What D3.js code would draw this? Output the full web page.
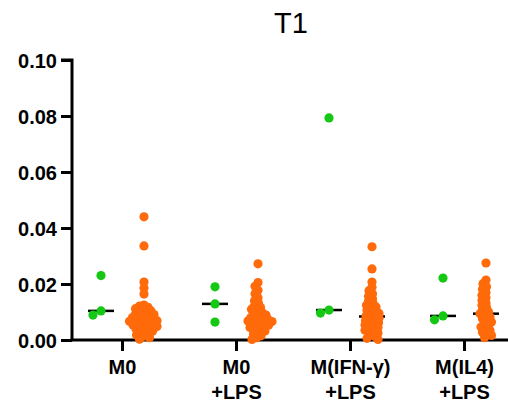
<!DOCTYPE html>
<html>
<head>
<meta charset="utf-8">
<script src="https://cdn.jsdelivr.net/npm/d3@7"></script>
<style>
  body { margin: 0; background: #fff; }
  text { font-family: Arial, "Liberation Sans", sans-serif; }
</style>
</head>
<body>
<div id="chart"></div>
<script>
// categories (two-line labels)
var categories = ["M0", "M0\n+LPS", "M(IFN-γ)\n+LPS", "M(IL4)\n+LPS"];
var yTicks = [0, 0.02, 0.04, 0.06, 0.08, 0.10];

// green series, one array per category
var greenM0 = [0.0089, 0.0104, 0.0230];
var greenM0LPS = [0.0064, 0.0129, 0.0190];
var greenIFN = [0.0096, 0.0107, 0.0793];
var greenIL4 = [0.0072, 0.0086, 0.0221];

// orange series
var orangeM0 = [0.0440, 0.0336, 0.0207, 0.0186, 0.0164, 0.0125, 0.0121, 0.0117, 0.0112, 0.0109,
  0.0104, 0.0101, 0.0097, 0.0093, 0.0091, 0.0087, 0.0084, 0.0080, 0.0078, 0.0075, 0.0072,
  0.0069, 0.0067, 0.0064, 0.0062, 0.0059, 0.0056, 0.0054, 0.0051, 0.0048, 0.0045, 0.0042,
  0.0039, 0.0035, 0.0031, 0.0027, 0.0023, 0.0018, 0.0013, 0.0008, 0.0003];
var orangeM0LPS = [0.0272, 0.0205, 0.0192, 0.0178, 0.0165, 0.0151, 0.0140, 0.0131, 0.0122, 0.0116,
  0.0110, 0.0104, 0.0098, 0.0093, 0.0089, 0.0085, 0.0081, 0.0077, 0.0074, 0.0071, 0.0068,
  0.0066, 0.0063, 0.0060, 0.0056, 0.0053, 0.0049, 0.0045, 0.0041, 0.0037, 0.0032, 0.0027,
  0.0021, 0.0015, 0.0008, 0.0002];
var orangeIFN = [0.0333, 0.0254, 0.0207, 0.0188, 0.0176, 0.0165, 0.0156, 0.0147, 0.0139, 0.0131,
  0.0124, 0.0118, 0.0112, 0.0106, 0.0100, 0.0095, 0.0090, 0.0086, 0.0082, 0.0078, 0.0074,
  0.0070, 0.0066, 0.0062, 0.0058, 0.0054, 0.0050, 0.0045, 0.0040, 0.0035, 0.0030, 0.0025,
  0.0019, 0.0013, 0.0006, 0.0002];
var orangeIL4 = [0.0275, 0.0214, 0.0201, 0.0190, 0.0181, 0.0170, 0.0160, 0.0151, 0.0141, 0.0132,
  0.0124, 0.0116, 0.0108, 0.0101, 0.0094, 0.0088, 0.0082, 0.0076, 0.0070, 0.0064, 0.0058,
  0.0052, 0.0046, 0.0040, 0.0034, 0.0028, 0.0022, 0.0016, 0.0008];

var greenData = [greenM0, greenM0LPS, greenIFN, greenIL4];
var orangeData = [orangeM0, orangeM0LPS, orangeIFN, orangeIL4];

var width = 508, height = 403;
var margin = {top: 60, right: 0, bottom: 63, left: 72};

var svg = d3.select("#chart").append("svg")
  .attr("width", width)
  .attr("height", height);

var y = d3.scaleLinear().domain([0, 0.10]).range([height - margin.bottom, margin.top]);
var x = d3.scalePoint().domain(categories).range([122, 464]);
var sub = d3.scalePoint().domain(["green", "orange"]).range([-21, 22]);

var green = "#14c814", orange = "#ff6a0a";
var r = 4.6;

// simple beeswarm: place each point at nearest free offset from the centre
function swarm(values, cx, minDist) {
  var placed = [];
  var sorted = values.slice().sort(function(a, b) { return b - a; });
  sorted.forEach(function(v) {
    var py = y(v);
    var best = 0;
    for (var step = 0; step < 60; step++) {
      var off = (step % 2 === 0 ? 1 : -1) * Math.ceil(step / 2) * 0.5;
      var ok = placed.every(function(p) {
        var dx = p.x - (cx + off), dy = p.y - py;
        return dx * dx + dy * dy >= minDist * minDist;
      });
      if (ok) { best = off; break; }
    }
    placed.push({x: cx + best, y: py, v: v});
  });
  return placed;
}

// title
svg.append("text")
  .attr("x", 291).attr("y", 33)
  .attr("text-anchor", "middle")
  .style("font-size", "29px")
  .text("T1");

// y axis
var yAxis = svg.append("g")
  .attr("transform", "translate(" + margin.left + ",0)")
  .call(d3.axisLeft(y).tickValues(yTicks).tickFormat(d3.format(".2f")).tickSize(11).tickPadding(4));
yAxis.select(".domain").attr("stroke-width", 3).attr("d", "M-11," + y(0.10) + "H0V" + y(0));
yAxis.selectAll(".tick line").attr("stroke-width", 3);
yAxis.selectAll(".tick text")
  .style("font-size", "20px").style("font-weight", "bold")
  .attr("fill", "#000").attr("dy", "0.36em");

// x axis
var xAxis = svg.append("g")
  .attr("transform", "translate(0," + y(0) + ")")
  .call(d3.axisBottom(x).tickSize(11).tickFormat(""));
xAxis.select(".domain").attr("stroke-width", 3).attr("d", "M" + (margin.left - 1.5) + ",0H" + width);
xAxis.selectAll(".tick line").attr("stroke-width", 3);

xAxis.selectAll(".tick").each(function(d) {
  var lines = d.split("\n");
  var t = d3.select(this).append("text")
    .attr("fill", "#000")
    .attr("text-anchor", "middle")
    .style("font-size", "20px")
    .style("font-weight", "bold");
  lines.forEach(function(s, i) {
    t.append("tspan").attr("x", 0).attr("y", 34 + i * 25).text(s);
  });
});

// medians and dots
categories.forEach(function(c, i) {
  [["green", greenData[i], green], ["orange", orangeData[i], orange]].forEach(function(s) {
    var cx = x(c) + sub(s[0]);
    var med = d3.median(s[1]);
    svg.append("line")
      .attr("x1", cx - 13).attr("x2", cx + 13)
      .attr("y1", y(med)).attr("y2", y(med))
      .attr("stroke", "#000").attr("stroke-width", 2.5);
    var pts = s[0] === "green" ? swarm(s[1], cx, 9) : swarm(s[1], cx, 4.5);
    svg.append("g").selectAll("circle")
      .data(pts)
      .join("circle")
      .attr("cx", function(p) { return p.x; })
      .attr("cy", function(p) { return p.y; })
      .attr("r", r)
      .attr("fill", s[2]);
  });
});
</script>
</body>
</html>
